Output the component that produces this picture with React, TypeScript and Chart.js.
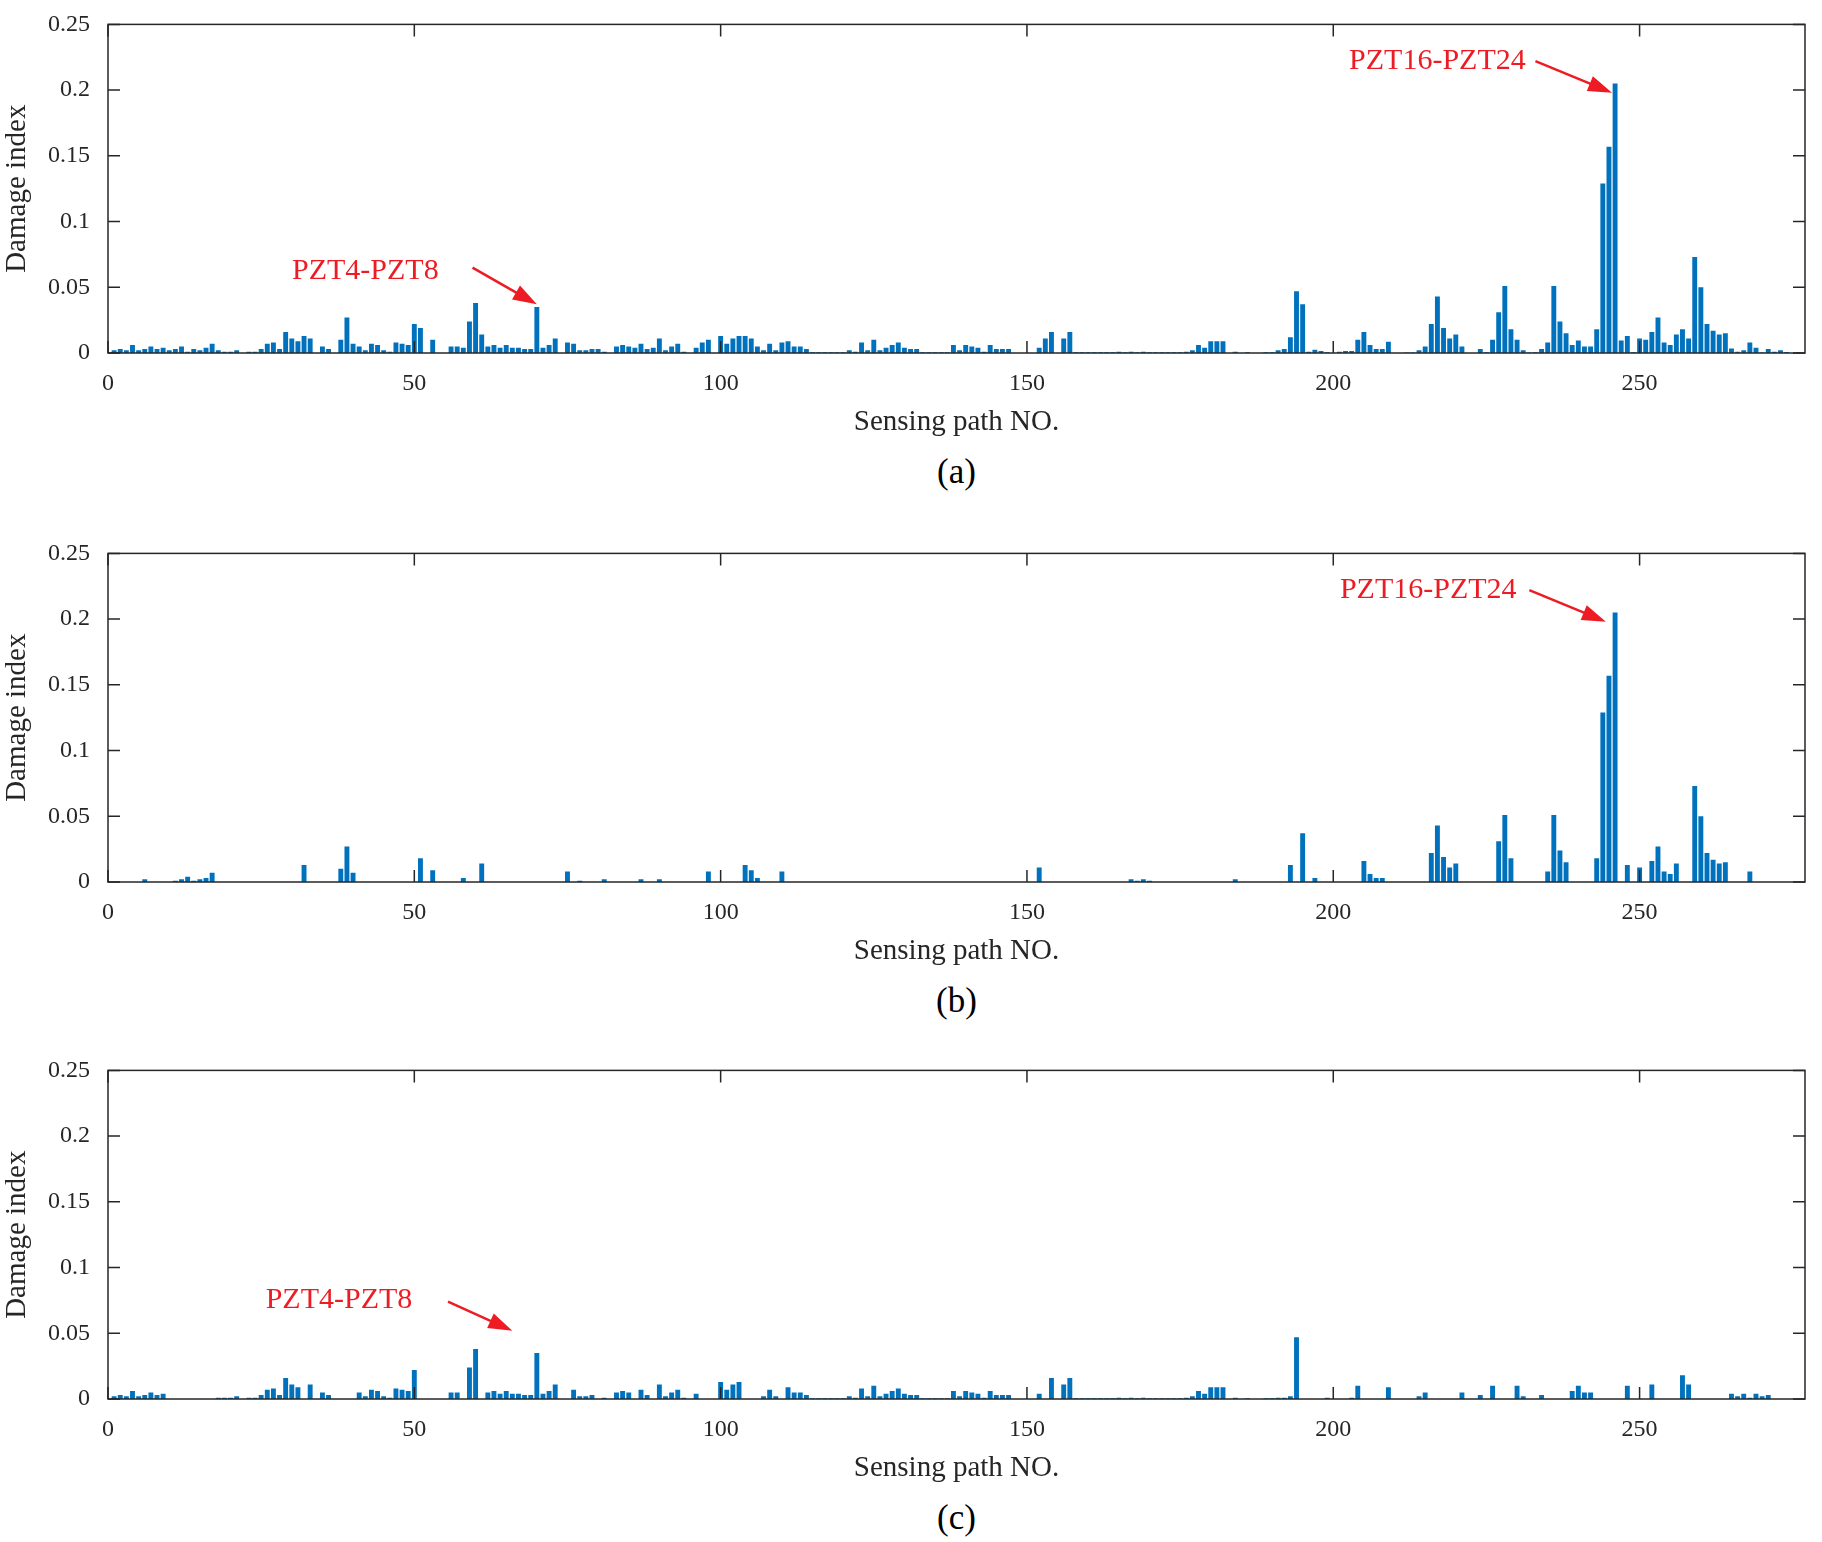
import React, { useEffect, useRef } from "react";
import { Chart, registerables } from "chart.js";
Chart.register(...registerables);

const xTicks = [0, 50, 100, 150, 200, 250];
const yTicks = [0, 0.05, 0.1, 0.15, 0.2, 0.25];

// panel (a): path 1..276
const valuesA = [
0.002,0.003,0.002,0.006,0.002,0.003,0.005,0.003,0.004,0.002,0.003,0.005,0.001,0.003,0.002,0.004,0.007,0.002,0.001,0.001,
0.002,0,0.001,0.001,0.003,0.007,0.008,0.003,0.016,0.011,0.009,0.013,0.011,0,0.005,0.003,0,0.01,0.027,0.007,
0.005,0.002,0.007,0.006,0.002,0.001,0.008,0.007,0.006,0.022,0.019,0,0.01,0,0,0.005,0.005,0.004,0.024,0.038,
0.014,0.005,0.006,0.004,0.006,0.004,0.004,0.003,0.003,0.035,0.004,0.006,0.011,0,0.008,0.007,0.002,0.002,0.003,0.003,
0.001,0,0.005,0.006,0.005,0.004,0.007,0.003,0.004,0.011,0.002,0.005,0.007,0.001,0,0.004,0.008,0.01,0,0.013,
0.007,0.011,0.013,0.013,0.011,0.005,0.002,0.007,0.002,0.008,0.009,0.005,0.005,0.003,0.0005,0.0005,0.0005,0.0005,0.0005,0.0005,
0.002,0.001,0.008,0.002,0.01,0.002,0.004,0.006,0.008,0.004,0.003,0.003,0.0005,0.0005,0.0005,0.0005,0.0005,0.006,0.002,0.006,
0.005,0.004,0.001,0.006,0.003,0.003,0.003,0,0,0,0,0.004,0.011,0.016,0,0.011,0.016,0.0005,0.0005,0.0005,
0.0005,0.0005,0.0005,0.0005,0.001,0.0005,0.001,0.0005,0.001,0.0005,0.0005,0.0005,0.0005,0.0005,0.0005,0.001,0.002,0.006,0.004,0.009,
0.009,0.009,0,0.001,0,0.0005,0,0,0.0005,0.0005,0.002,0.003,0.012,0.047,0.037,0.001,0.0025,0.0015,0.0005,0,
0.001,0.0015,0.0015,0.01,0.016,0.006,0.003,0.003,0.0085,0,0,0.0003,0.0003,0.002,0.005,0.022,0.043,0.019,0.011,0.014,
0.005,0,0,0.003,0.0005,0.01,0.031,0.051,0.018,0.01,0.002,0.0003,0.0005,0.003,0.008,0.051,0.024,0.015,0.006,0.0095,
0.005,0.005,0.018,0.129,0.157,0.205,0.0095,0.013,0.0005,0.011,0.01,0.016,0.027,0.008,0.006,0.014,0.018,0.011,0.073,0.05,
0.022,0.017,0.014,0.015,0.0035,0.001,0.002,0.008,0.004,0.0003,0.003,0.001,0.002,0.0008,0,0.0005];

// panel (b): [path, value] for non-zero paths
const pairsB = [
[6,0.002],[11,0.001],[12,0.002],[13,0.004],[14,0.001],[15,0.002],[16,0.003],[17,0.007],[32,0.013],[38,0.01],[39,0.027],[40,0.007],
[51,0.018],[53,0.009],[58,0.003],[61,0.014],[75,0.008],[77,0.001],[81,0.002],[87,0.002],[90,0.002],[98,0.008],[104,0.013],[105,0.009],
[106,0.003],[110,0.008],[152,0.011],[167,0.002],[168,0.001],[169,0.002],[170,0.001],[184,0.002],[193,0.013],[195,0.037],[197,0.003],
[205,0.016],[206,0.006],[207,0.003],[208,0.003],[216,0.022],[217,0.043],[218,0.019],[219,0.011],[220,0.014],[227,0.031],[228,0.051],
[229,0.018],[235,0.008],[236,0.051],[237,0.024],[238,0.015],[243,0.018],[244,0.129],[245,0.157],[246,0.205],[248,0.013],[250,0.011],
[252,0.016],[253,0.027],[254,0.008],[255,0.006],[256,0.014],[259,0.073],[260,0.05],[261,0.022],[262,0.017],[263,0.014],[264,0.015],[268,0.008]];

// panel (c): path 1..276
const valuesC = [
0.002,0.003,0.002,0.006,0.002,0.003,0.005,0.003,0.004,0,0,0,0,0,0,0,0,0.001,0.001,0.001,
0.002,0,0.001,0.001,0.003,0.007,0.008,0.003,0.016,0.011,0.009,0,0.011,0,0.005,0.003,0,0,0,0,
0.005,0.002,0.007,0.006,0.002,0.001,0.008,0.007,0.006,0.022,0,0,0,0,0,0.005,0.005,0,0.024,0.038,
0,0.005,0.006,0.004,0.006,0.004,0.004,0.003,0.003,0.035,0.004,0.006,0.011,0,0,0.007,0.002,0.002,0.003,0,
0.001,0,0.005,0.006,0.005,0,0.007,0.003,0,0.011,0.002,0.005,0.007,0.001,0,0.004,0,0,0,0.013,
0.007,0.011,0.013,0,0,0,0.002,0.007,0.002,0,0.009,0.005,0.005,0.003,0.0005,0.0005,0.0005,0.0005,0.0005,0.0005,
0.002,0.001,0.008,0.002,0.01,0.002,0.004,0.006,0.008,0.004,0.003,0.003,0.0005,0.0005,0.0005,0.0005,0.0005,0.006,0.002,0.006,
0.005,0.004,0.001,0.006,0.003,0.003,0.003,0,0,0,0,0.004,0,0.016,0,0.011,0.016,0.0005,0.0005,0.0005,
0.0005,0.0005,0.0005,0.0005,0.001,0.0005,0.001,0.0005,0.001,0.0005,0.0005,0.0005,0.0005,0.0005,0.0005,0.001,0.002,0.006,0.004,0.009,
0.009,0.009,0,0.001,0,0.0005,0,0,0.0005,0.0005,0.001,0.001,0.002,0.047,0,0,0,0,0.001,0,
0,0,0.001,0.01,0,0,0,0,0.009,0,0,0,0,0.002,0.005,0,0,0,0,0,
0.005,0,0,0.003,0,0.01,0,0,0,0.01,0.002,0,0,0.003,0,0,0,0,0.006,0.01,
0.005,0.005,0,0,0,0,0,0.01,0,0,0,0.011,0,0,0,0,0.018,0.011,0,0,
0,0,0,0,0.004,0.002,0.004,0.001,0.004,0.002,0.003,0,0,0,0,0];

type Note = { text: string; tx: number; ty: number; ax: number; ay: number; bx: number; by: number };
const notesA: Note[] = [
  { text: "PZT4-PZT8", tx: 42, ty: 0.062, ax: 59.5, ay: 0.065, bx: 70, by: 0.037 },
  { text: "PZT16-PZT24", tx: 217, ty: 0.222, ax: 233, ay: 0.222, bx: 245.5, by: 0.198 },
];
const notesB: Note[] = [
  { text: "PZT16-PZT24", tx: 215.5, ty: 0.222, ax: 232, ay: 0.222, bx: 244.5, by: 0.198 },
];
const notesC: Note[] = [
  { text: "PZT4-PZT8", tx: 37.7, ty: 0.075, ax: 55.5, ay: 0.074, bx: 66, by: 0.052 },
];

const FONT = "'Liberation Serif', 'Times New Roman', serif";
const INK = "#262626";

function Panel({ points, notes, top, caption }: { points: { x: number; y: number }[]; notes: Note[]; top: number; caption: string }) {
  const ref = useRef<HTMLCanvasElement>(null);
  useEffect(() => {
    const frame = {
      id: "frame",
      afterDraw(chart: any) {
        const { ctx, chartArea: a, scales } = chart;
        ctx.save();
        ctx.strokeStyle = INK;
        ctx.lineWidth = 1.5;
        ctx.strokeRect(a.left, a.top, a.right - a.left, a.bottom - a.top);
        const L = 12;
        ctx.beginPath();
        xTicks.forEach((t) => {
          const x = scales.x.getPixelForValue(t);
          ctx.moveTo(x, a.bottom); ctx.lineTo(x, a.bottom - L);
          ctx.moveTo(x, a.top); ctx.lineTo(x, a.top + L);
        });
        yTicks.forEach((t) => {
          const y = scales.y.getPixelForValue(t);
          ctx.moveTo(a.left, y); ctx.lineTo(a.left + L, y);
          ctx.moveTo(a.right, y); ctx.lineTo(a.right - L, y);
        });
        ctx.stroke();
        notes.forEach((n) => {
          ctx.fillStyle = "#ED1C24";
          ctx.strokeStyle = "#ED1C24";
          ctx.font = `30px ${FONT}`;
          ctx.textAlign = "center";
          ctx.textBaseline = "middle";
          ctx.fillText(n.text, scales.x.getPixelForValue(n.tx), scales.y.getPixelForValue(n.ty));
          const x1 = scales.x.getPixelForValue(n.ax), y1 = scales.y.getPixelForValue(n.ay);
          const x2 = scales.x.getPixelForValue(n.bx), y2 = scales.y.getPixelForValue(n.by);
          const ang = Math.atan2(y2 - y1, x2 - x1);
          const h = 24;
          ctx.lineWidth = 2.5;
          ctx.beginPath();
          ctx.moveTo(x1, y1);
          ctx.lineTo(x2 - h * 0.8 * Math.cos(ang), y2 - h * 0.8 * Math.sin(ang));
          ctx.stroke();
          ctx.beginPath();
          ctx.moveTo(x2, y2);
          ctx.lineTo(x2 - h * Math.cos(ang) + 8 * Math.sin(ang), y2 - h * Math.sin(ang) - 8 * Math.cos(ang));
          ctx.lineTo(x2 - h * Math.cos(ang) - 8 * Math.sin(ang), y2 - h * Math.sin(ang) + 8 * Math.cos(ang));
          ctx.closePath();
          ctx.fill();
        });
        ctx.restore();
      },
    };
    const chart = new Chart(ref.current!, {
      type: "bar",
      data: { datasets: [{ data: points, backgroundColor: "#0072BD", barPercentage: 0.8, categoryPercentage: 1, grouped: false }] },
      options: {
        animation: false,
        responsive: false,
        layout: { padding: { top: 15, right: 17, left: 0, bottom: 0 } },
        plugins: { legend: { display: false }, tooltip: { enabled: false } },
        scales: {
          x: {
            type: "linear", min: 0, max: 277, offset: false,
            grid: { display: false, offset: false }, border: { display: false },
            afterBuildTicks: (s: any) => { s.ticks = xTicks.map((v) => ({ value: v })); },
            ticks: { color: INK, font: { family: FONT, size: 24 }, padding: 8, maxRotation: 0 },
            title: { display: true, text: "Sensing path NO.", color: INK, font: { family: FONT, size: 29 }, padding: { top: 4, bottom: 0 } },
            afterFit: (s: any) => { s.height = 87; },
          },
          y: {
            min: 0, max: 0.25,
            grid: { display: false }, border: { display: false },
            afterBuildTicks: (s: any) => { s.ticks = yTicks.map((v) => ({ value: v })); },
            ticks: { color: INK, font: { family: FONT, size: 24 }, padding: 10, callback: (v: any) => String(Number(v)) },
            title: { display: true, text: "Damage index", color: INK, font: { family: FONT, size: 29 }, padding: { top: 0, bottom: 4 } },
            afterFit: (s: any) => { s.width = 108; },
          },
        },
      },
      plugins: [frame],
    } as any);
    return () => chart.destroy();
  }, []);
  return (
    <>
      <canvas ref={ref} width={1822} height={440} style={{ position: "absolute", left: 0, top, width: 1822, height: 440 }} />
      <div style={{ position: "absolute", left: 108, width: 1697, top: top + 452, textAlign: "center", fontFamily: FONT, fontSize: 35, color: "#000" }}>{caption}</div>
    </>
  );
}

export default function App() {
  const ptsA = valuesA.map((v, i) => ({ x: i + 1, y: v }));
  const ptsB = pairsB.map(([x, y]) => ({ x, y }));
  const ptsC = valuesC.map((v, i) => ({ x: i + 1, y: v }));
  return (
    <div style={{ position: "absolute", left: 0, top: 0, width: 1822, height: 1542, background: "#fff" }}>
      <Panel points={ptsA} notes={notesA} top={0} caption="(a)" />
      <Panel points={ptsB} notes={notesB} top={529} caption="(b)" />
      <Panel points={ptsC} notes={notesC} top={1046} caption="(c)" />
    </div>
  );
}
